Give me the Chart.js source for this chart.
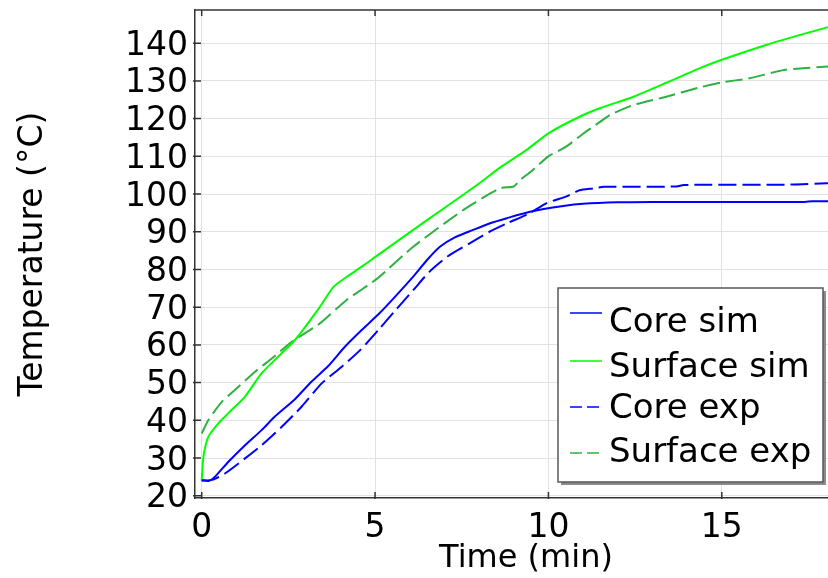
<!DOCTYPE html>
<html>
<head>
<meta charset="utf-8">
<script src="https://cdn.jsdelivr.net/npm/chart.js@4/dist/chart.umd.min.js"></script>
<style>
  html, body { margin: 0; padding: 0; background: #fff; overflow: hidden; }
  #wrap { width: 860px; height: 578px; }
</style>
</head>
<body>
<div id="wrap"><canvas id="c" width="860" height="578"></canvas></div>
<script>
// ---- data ----
const seriesLabels = ['Core sim', 'Surface sim', 'Core exp', 'Surface exp'];

const coreSimT = [0, 0.2, 0.38, 0.77, 1.25, 1.73, 2.11, 2.69, 3.17, 3.65, 4.13, 4.6, 5.14, 5.6, 6.1, 6.5, 6.87, 7.3, 7.83, 8.3, 8.8, 9.47, 10.43, 11, 12, 13, 14, 15, 16, 17.4, 17.6, 18.2];
const coreSimV = [24.2, 23.9, 25, 29, 33.4, 37.4, 41, 45.6, 50.3, 54.4, 59.5, 63.8, 68.5, 73, 78.1, 82.5, 86, 88.5, 90.5, 92.2, 93.6, 95.3, 96.8, 97.4, 97.8, 97.9, 97.9, 97.9, 97.9, 97.9, 98.1, 98.1];

const surfSimT = [0, 0.05, 0.19, 0.48, 0.77, 1.25, 1.73, 2.21, 2.69, 3.41, 3.8, 4.18, 4.66, 5.05, 6.1, 7.0, 8.0, 8.6, 9.37, 10, 10.9, 11.5, 12.45, 13.4, 14.37, 15, 16.3, 17.26, 18.2];
const surfSimV = [24, 30.3, 35.6, 39.2, 41.9, 46.3, 52.5, 56.9, 61.3, 70.1, 75.4, 78, 81, 83.6, 90.5, 96.3, 102.8, 107, 111.7, 116.1, 120.5, 122.8, 125.8, 129.5, 133.4, 135.6, 139.6, 142.2, 144.6];

const coreExpT = [0, 0.3, 0.67, 1.25, 1.73, 2.31, 2.88, 3.46, 4.04, 4.57, 5.1, 5.62, 6.1, 6.58, 7.1, 7.74, 8.3, 8.8, 9.47, 9.95, 10.5, 10.9, 11.3, 11.6, 13.7, 13.9, 17, 18.2];
const coreExpV = [24, 24.2, 25.9, 29.9, 33.4, 38.3, 43.6, 49.8, 54.2, 58.6, 64, 69.5, 74.5, 79.5, 83.5, 87, 90, 92.2, 95, 97.6, 99.3, 101, 101.5, 101.9, 102, 102.4, 102.5, 102.9];

const surfExpT = [0, 0.19, 0.58, 1.06, 1.54, 2.02, 2.6, 3.41, 4.18, 5.05, 6.1, 7.55, 8.6, 9.0, 9.18, 9.5, 10, 10.5, 11, 11.5, 11.78, 12.45, 13.4, 14.37, 15, 15.8, 16.8, 18.2];
const surfExpV = [36.5, 40, 44.9, 48.9, 52.9, 56.4, 60.8, 65.7, 71.9, 77.5, 86, 95.8, 101.5, 102, 103.7, 106, 110, 112.5, 116, 119.2, 121, 123.6, 125.8, 128.3, 129.6, 130.7, 132.9, 133.9];

const xTicks = [0, 5, 10, 15];
const yTicks = [20, 30, 40, 50, 60, 70, 80, 90, 100, 110, 120, 130, 140];

function pts(t, v) { return t.map((x, i) => ({ x: x, y: v[i] })); }

const FONT = 'DejaVu Sans';

const frameAndTicks = {
  id: 'frameAndTicks',
  afterDatasetsDraw(chart) {
    const { ctx, chartArea: a, scales } = chart;
    ctx.save();
    ctx.strokeStyle = '#333';
    ctx.lineWidth = 1.5;
    ctx.beginPath();
    ctx.moveTo(a.left, a.top); ctx.lineTo(a.right, a.top);
    ctx.stroke();
    ctx.beginPath();
    xTicks.forEach(v => {
      const px = scales.x.getPixelForValue(v);
      ctx.moveTo(px, a.bottom + 1); ctx.lineTo(px, a.bottom - 6);
      ctx.moveTo(px, a.top); ctx.lineTo(px, a.top + 6);
    });
    yTicks.forEach(v => {
      const py = scales.y.getPixelForValue(v);
      ctx.moveTo(a.left - 2, py); ctx.lineTo(a.left + 6, py);
    });
    ctx.stroke();
    ctx.restore();
  }
};

const boxLegend = {
  id: 'boxLegend',
  afterDraw(chart) {
    const ctx = chart.ctx;
    const L = 558, T = 288, R = 823, B = 482;
    ctx.save();
    ctx.fillStyle = '#8a8a8a';
    ctx.fillRect(L + 3, T + 3, R - L, B - T);
    ctx.fillStyle = '#fff';
    ctx.fillRect(L, T, R - L, B - T);
    ctx.strokeStyle = '#5a5a5a';
    ctx.lineWidth = 1.5;
    ctx.strokeRect(L, T, R - L, B - T);
    const lineY = [313, 361, 407, 453];
    const textY = [332, 377, 418, 462];
    ctx.font = '34px "' + FONT + '"';
    ctx.textAlign = 'left';
    ctx.textBaseline = 'alphabetic';
    chart.data.datasets.forEach((ds, i) => {
      ctx.strokeStyle = ds.borderColor;
      ctx.lineWidth = 1.5;
      ctx.setLineDash(ds.borderDash && ds.borderDash.length ? [12, 5] : []);
      ctx.beginPath();
      ctx.moveTo(570, lineY[i]); ctx.lineTo(602, lineY[i]);
      ctx.stroke();
      ctx.setLineDash([]);
      ctx.fillStyle = '#000';
      ctx.fillText(ds.label, 609, textY[i]);
    });
    ctx.restore();
  }
};

const common = { fill: false, pointRadius: 0, borderWidth: 2, tension: 0.2 };

new Chart(document.getElementById('c'), {
  type: 'line',
  data: {
    datasets: [
      Object.assign({ label: seriesLabels[0], data: pts(coreSimT, coreSimV), borderColor: '#0000ff' }, common),
      Object.assign({ label: seriesLabels[1], data: pts(surfSimT, surfSimV), borderColor: '#00ff00' }, common),
      Object.assign({ label: seriesLabels[2], data: pts(coreExpT, coreExpV), borderColor: '#0000ff', borderDash: [18, 6] }, common),
      Object.assign({ label: seriesLabels[3], data: pts(surfExpT, surfExpV), borderColor: '#2fb043', borderDash: [17, 6] }, common)
    ]
  },
  options: {
    responsive: false,
    animation: false,
    devicePixelRatio: 1,
    layout: { padding: { left: 0, top: 10, right: 3, bottom: 0 } },
    plugins: { legend: { display: false }, tooltip: { enabled: false } },
    scales: {
      x: {
        type: 'linear',
        min: -0.193,
        max: 18.9,
        afterFit(s) { s.height = 80; s.paddingLeft = 0; s.paddingRight = 0; },
        afterBuildTicks(s) { s.ticks = xTicks.map(v => ({ value: v })); },
        grid: { color: '#e2e2e2', lineWidth: 1, drawTicks: false },
        border: { display: true, color: '#333', width: 1.5 },
        ticks: { padding: 11, autoSkip: false, color: '#000', font: { family: FONT, size: 33 }, maxRotation: 0 },
        title: { display: true, text: 'Time (min)', color: '#000', font: { family: FONT, size: 32 }, padding: { top: 0, bottom: 0 } }
      },
      y: {
        type: 'linear',
        min: 19.4,
        max: 148.8,
        afterFit(s) { s.width = 195; s.paddingTop = 0; s.paddingBottom = 0; },
        afterBuildTicks(s) { s.ticks = yTicks.map(v => ({ value: v })); },
        grid: { color: '#e2e2e2', lineWidth: 1, drawTicks: false },
        border: { display: true, color: '#333', width: 1.5 },
        ticks: { padding: 7, autoSkip: false, labelOffset: 3, color: '#000', font: { family: FONT, size: 33 } },
        title: { display: true, text: 'Temperature (°C)', color: '#000', font: { family: FONT, size: 33 }, padding: { top: 14, bottom: 0 } }
      }
    }
  },
  plugins: [frameAndTicks, boxLegend]
});
</script>
</body>
</html>
